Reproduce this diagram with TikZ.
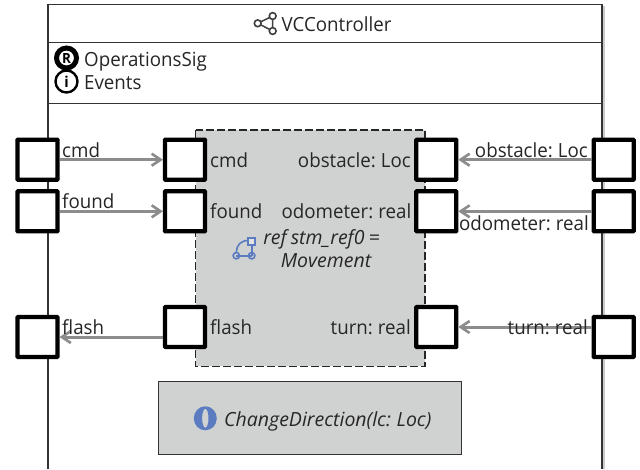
\documentclass[tikz,border=0pt]{standalone}
\usepackage{fontspec}
\setmainfont[FakeStretch=0.96,WordSpace=0.7]{Open Sans}
\newfontfamily\italfam[FakeStretch=1.0,WordSpace=0.8,ItalicFont={Open Sans Italic}]{Open Sans}
\usetikzlibrary{arrows.meta}
\definecolor{frameline}{HTML}{333333}
\definecolor{boxfill}{HTML}{D0D2D1}
\definecolor{conn}{HTML}{8C8C8C}
\definecolor{iconblue}{HTML}{5B7CC0}
\tikzset{
  portbox/.style={draw=black,fill=white,line width=4.2pt,minimum size=40pt,inner sep=0pt,outer sep=2pt,rounded corners=0.5pt},
  conline/.style={draw=conn,line width=3pt,-{Straight Barb[length=9pt,width=12pt,line width=2.6pt]}},
  framel/.style={draw=frameline,line width=1.4pt},
  lab/.style={font=\fontsize{19.5}{22}\selectfont,text=black!85,inner sep=0pt,yshift=-0.8pt},
  labl/.style={lab,anchor=base west},
  labr/.style={lab,anchor=base east},
  labi/.style={lab,font=\italfam\fontsize{19.5}{22}\selectfont\itshape,anchor=base},
  share/.style={draw=black!75,line width=1.6pt,fill=white},
  blueline/.style={draw=iconblue,line width=1.6pt}
}
\begin{document}
\begin{tikzpicture}[x=1pt,y=-1pt]
\useasboundingbox (0,0) rectangle (640,469);
\fill[white] (0,0) rectangle (640,469);
% frame
\draw[black!20,line width=1.5pt] (604,6) -- (604,469);
\draw[framel] (48,469) -- (48,4.5) -- (602,4.5) -- (602,469);
\draw[framel] (48,42.7) -- (602,42.7);
\draw[framel] (48,103.3) -- (602,103.3);
% title
\node[labl] (title) at (281.5,30.7) {VCController};
\coordinate (sl) at (257.7,23.3);
\coordinate (st) at (272.7,16);
\coordinate (sb) at (272.7,31);
\draw[black!75,line width=1.5pt] (st) -- (sl) -- (sb) (st) -- (sb);
\foreach \p in {sl,st,sb} \draw[share] (\p) circle (3.4);
% R and i icons
\node[draw=black,line width=5pt,circle,minimum size=20pt,inner sep=0pt,font=\bfseries\fontsize{14}{14}\selectfont] (ricon) at (66.5,58) {R};
\node[draw=black,line width=2.4pt,circle,minimum size=22pt,inner sep=0pt,font=\bfseries\fontsize{15}{15}\selectfont] (iicon) at (66.5,81.5) {i};
\node[labl] (ops) at (84,65.7) {OperationsSig};
\node[labl] (evs) at (84,88.3) {Events};
% boxes
\fill[boxfill] (195.7,130) rectangle (425,366.3);
\draw[black!85,line width=1.2pt,dash pattern=on 7.5pt off 3.5pt] (195.7,130) rectangle (425,366.3);
\draw[framel,fill=boxfill] (158.7,381.3) rectangle (461.7,454.3);
% ports
\node[portbox] (oc) at (37.5,159.7) {};
\node[portbox] (of) at (37.5,211.3) {};
\node[portbox] (ofl) at (37.5,337) {};
\node[portbox] (ic) at (185,159.7) {};
\node[portbox] (if) at (185,211.3) {};
\node[portbox] (ifl) at (185,327) {};
\node[portbox] (io) at (436.3,159.7) {};
\node[portbox] (id) at (436.3,211.3) {};
\node[portbox] (it) at (436.3,327) {};
\node[portbox] (oo) at (613.7,159.7) {};
\node[portbox] (od) at (613.7,211.3) {};
\node[portbox] (ot) at (613.7,337) {};
% connectors
\draw[conline] (oc.east) -- (ic.west);
\draw[conline] (of.east) -- (if.west);
\draw[conline] (ifl.west |- ofl.east) -- (ofl.east);
\draw[conline] (oo.west) -- (io.east);
\draw[conline] (od.west) -- (id.east);
\draw[conline] (ot.west |- it.east) -- (it.east);
% labels
\node[labl] (l1) at (62,156.7) {cmd};
\node[labl] (l2) at (62,208) {found};
\node[labl] (l3) at (62,334) {flash};
\node[labl] (l4) at (210,166.7) {cmd};
\node[labl] (l5) at (210,218) {found};
\node[labl] (l6) at (210,334) {flash};
\node[labr] (l7) at (411,166.7) {obstacle: Loc};
\node[labr] (l8) at (411.5,218) {odometer: real};
\node[labr] (l9) at (411,334) {turn: real};
\node[labr] (l10) at (588,156.7) {obstacle: Loc};
\node[labr] (l11) at (589,229.3) {odometer: real};
\node[labr] (l12) at (588,334) {turn: real};
\node[labi] (r1) at (321.5,244) {ref stm\_ref0 =};
\node[labi] (r2) at (326,267) {Movement};
\node[labi,anchor=base west] (cd) at (224,425.7) {ChangeDirection(lc: Loc)};
% state machine icon
\coordinate (bl) at (236.3,255.7);
\coordinate (br) at (251.7,255.7);
\draw[blueline,fill=white!40!boxfill] (248.2,237.8) rectangle (255.2,244.8);
\draw[blueline] (248.2,240.5) .. controls (241,240.5) and (236.5,245) .. (236.3,252);
\draw[blueline] (251.7,244.8) -- (br);
\draw[blueline] (bl) -- (br);
\draw[blueline] (bl) circle (3.2);
\draw[blueline] (br) circle (3.2);
% operation icon
\fill[iconblue,even odd rule] (205.3,418.3) ellipse [x radius=11.5,y radius=12] (205.3,418.3) ellipse [x radius=3.2,y radius=9.5];
\end{tikzpicture}
\end{document}
